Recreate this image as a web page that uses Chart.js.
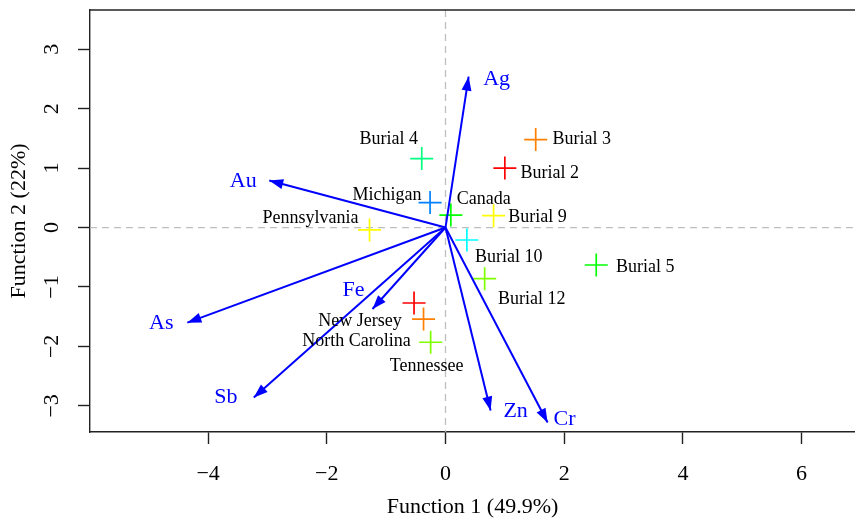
<!DOCTYPE html>
<html>
<head>
<meta charset="utf-8">
<title>Discriminant biplot</title>
<script src="https://cdn.jsdelivr.net/npm/chart.js@4.4.1/dist/chart.umd.min.js"></script>
<style>
html, body { margin: 0; padding: 0; background: #fff; overflow: hidden; }
</style>
</head>
<body>
<canvas id="biplot" width="855" height="518"></canvas>
<script>
// Sample scores on the two discriminant functions
const siteNames = ["Burial 2", "Burial 3", "Burial 4", "Burial 5", "Burial 9", "Burial 10", "Burial 12",
                   "Canada", "Michigan", "New Jersey", "North Carolina", "Pennsylvania", "Tennessee"];
const siteF1 = [1.00, 1.52, -0.40, 2.54, 0.81, 0.36, 0.66, 0.09, -0.26, -0.53, -0.37, -1.28, -0.25];
const siteF2 = [1.00, 1.48, 1.16, -0.63, 0.20, -0.21, -0.86, 0.21, 0.42, -1.27, -1.54, -0.04, -1.93];

// Element loadings (arrows from the origin)
const elementNames = ["Ag", "Au", "As", "Sb", "Fe", "Zn", "Cr"];
const elementF1 = [0.39, -2.97, -4.35, -3.23, -1.23, 0.76, 1.72];
const elementF2 = [2.54, 0.79, -1.60, -2.86, -1.37, -3.08, -3.28];

// Axis ticks
const xTicks = [-4, -2, 0, 2, 4, 6];
const yTicks = [-3, -2, -1, 0, 1, 2, 3];

// ---- styling ----
const siteColors = ["#FF0000", "#FF8000", "#00FF80", "#00FF00", "#FFFF00", "#00FFFF", "#80FF00",
                    "#00FF00", "#0080FF", "#FF0000", "#FF8000", "#FFFF00", "#80FF00"];

// pixel offsets of label centres from the marks
const siteLabelOffset = {
    "Burial 2": [45, 3], "Burial 3": [46, -2], "Burial 4": [-33, -21], "Burial 5": [49, 0],
    "Burial 9": [44, 0], "Burial 10": [42, 15], "Burial 12": [47, 19], "Canada": [33, -18],
    "Michigan": [-43, -9], "New Jersey": [-54, 16], "North Carolina": [-67, 20],
    "Pennsylvania": [-59, -14], "Tennessee": [-4, 22]
};
const elementLabelOffset = {
    "Ag": [28, 1], "Au": [-26, -1], "As": [-26, -1], "Sb": [-28, -2],
    "Fe": [-19, -20], "Zn": [25, -1], "Cr": [17, -5]
};

const serif = "'Liberation Serif', 'Times New Roman', serif";
const arrowBlue = "#0000FF";

function fmtTick(v){
    return v < 0 ? "\u2212" + Math.abs(v) : String(v);
}

// keep the plot box where the reference has it
function noBoxPadding(s){
    s.paddingTop = 0;
    s.paddingBottom = 0;
    s.paddingLeft = 0;
    s.paddingRight = 0;
}

let arrowSets = elementNames.map(function(name, i){
    return {
        type: "line",
        label: name,
        data: [{x: 0, y: 0}, {x: elementF1[i], y: elementF2[i]}],
        borderColor: arrowBlue,
        borderWidth: 2,
        pointRadius: 0,
        fill: false,
        order: 0
    };
});

let siteSet = {
    type: "scatter",
    label: "sites",
    data: siteNames.map(function(n, i){ return {x: siteF1[i], y: siteF2[i]}; }),
    pointStyle: "cross",
    pointRadius: 11.5,
    pointHoverRadius: 11.5,
    pointBorderWidth: 1.7,
    pointBorderColor: siteColors,
    pointBackgroundColor: siteColors,
    order: 1
};

const biplotExtras = {
    id: "biplotExtras",

    beforeDatasetsDraw(chart){
        const {ctx, chartArea: a, scales: {x, y}} = chart;
        const x0 = x.getPixelForValue(0);
        const y0 = y.getPixelForValue(0);
        ctx.save();
        ctx.strokeStyle = "#bebebe";
        ctx.lineWidth = 1.3;
        ctx.setLineDash([7, 5]);
        ctx.beginPath();
        ctx.moveTo(x0, a.top);
        ctx.lineTo(x0, a.bottom);
        ctx.moveTo(a.left, y0);
        ctx.lineTo(a.right, y0);
        ctx.stroke();
        ctx.restore();
    },

    afterDatasetsDraw(chart){
        const {ctx, scales: {x, y}} = chart;
        const ox = x.getPixelForValue(0);
        const oy = y.getPixelForValue(0);
        ctx.save();

        // arrow heads
        ctx.fillStyle = arrowBlue;
        for(let i = 0; i < elementNames.length; i++){
            let tx = x.getPixelForValue(elementF1[i]);
            let ty = y.getPixelForValue(elementF2[i]);
            let ang = Math.atan2(ty - oy, tx - ox);
            let len = 14, half = 5;
            let bx = tx - len * Math.cos(ang);
            let by = ty - len * Math.sin(ang);
            ctx.beginPath();
            ctx.moveTo(tx, ty);
            ctx.lineTo(bx + half * Math.sin(ang), by - half * Math.cos(ang));
            ctx.lineTo(bx - half * Math.sin(ang), by + half * Math.cos(ang));
            ctx.closePath();
            ctx.fill();
        }

        ctx.textAlign = "center";
        ctx.textBaseline = "middle";

        // element labels
        ctx.font = "22px " + serif;
        for(let i = 0; i < elementNames.length; i++){
            let off = elementLabelOffset[elementNames[i]];
            ctx.fillText(elementNames[i],
                x.getPixelForValue(elementF1[i]) + off[0],
                y.getPixelForValue(elementF2[i]) + off[1] + 1.5);
        }

        // site labels
        ctx.fillStyle = "#000";
        ctx.font = "18px " + serif;
        for(let i = 0; i < siteNames.length; i++){
            let off = siteLabelOffset[siteNames[i]];
            ctx.fillText(siteNames[i],
                x.getPixelForValue(siteF1[i]) + off[0],
                y.getPixelForValue(siteF2[i]) + off[1] + 2);
        }
        ctx.restore();
    },

    afterDraw(chart){
        const {ctx, chartArea: a} = chart;
        ctx.save();
        ctx.strokeStyle = "#222";
        ctx.lineWidth = 1.4;
        ctx.beginPath();
        ctx.moveTo(a.left - 0.7, a.top);
        ctx.lineTo(a.right, a.top);
        ctx.stroke();
        ctx.restore();
    }
};

let ctx = document.getElementById("biplot").getContext("2d");

let chart = new Chart(ctx, {
    type: "scatter",
    data: { datasets: arrowSets.concat([siteSet]) },
    options: {
        responsive: false,
        animation: false,
        layout: { autoPadding: false, padding: { top: 10, left: 0, right: 0, bottom: 0 } },
        plugins: {
            legend: { display: false },
            tooltip: { enabled: false }
        },
        scales: {
            x: {
                type: "linear",
                min: -5.99,
                max: 6.9,
                afterFit: function(s){ s.height = 86; noBoxPadding(s); },
                afterBuildTicks: function(s){ s.ticks = xTicks.map(function(v){ return {value: v}; }); },
                border: { display: true, color: "#222", width: 1.4 },
                grid: { drawOnChartArea: false, drawTicks: true, tickLength: 12, tickColor: "#222", tickWidth: 1.4 },
                ticks: {
                    autoSkip: false,
                    maxRotation: 0,
                    padding: 17,
                    color: "#000",
                    font: { family: serif, size: 22 },
                    callback: fmtTick
                },
                title: {
                    display: true,
                    text: "Function 1 (49.9%)",
                    color: "#000",
                    font: { family: serif, size: 22, lineHeight: 1 },
                    padding: { top: 0, bottom: 0 }
                }
            },
            y: {
                type: "linear",
                min: -3.44,
                max: 3.66,
                afterFit: function(s){ s.width = 90; noBoxPadding(s); },
                afterBuildTicks: function(s){ s.ticks = yTicks.map(function(v){ return {value: v}; }); },
                border: { display: true, color: "#222", width: 1.4 },
                grid: { drawOnChartArea: false, drawTicks: true, tickLength: 12, tickColor: "#222", tickWidth: 1.4 },
                ticks: {
                    autoSkip: false,
                    minRotation: 90,
                    maxRotation: 90,
                    crossAlign: "center",
                    padding: 14,
                    color: "#000",
                    font: { family: serif, size: 22 },
                    callback: fmtTick
                },
                title: {
                    display: true,
                    text: "Function 2 (22%)",
                    color: "#000",
                    font: { family: serif, size: 22, lineHeight: 1 },
                    padding: { top: 8, bottom: 0 }
                }
            }
        }
    },
    plugins: [biplotExtras]
});
</script>
</body>
</html>
